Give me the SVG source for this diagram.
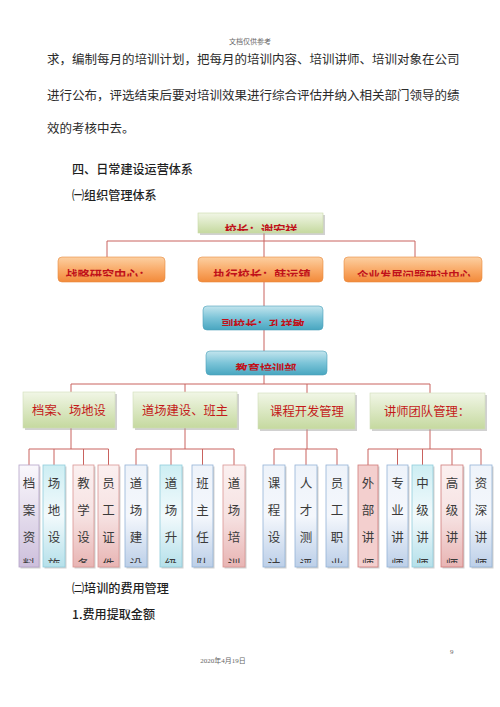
<svg xmlns="http://www.w3.org/2000/svg" width="500" height="707" viewBox="0 0 500 707">
<defs>
<style>
.body{font-family:"Noto Sans CJK SC","Noto Sans",sans-serif;font-size:12.5px;fill:#2b2b2b}
.head{font-family:"Noto Sans CJK SC","Noto Sans",sans-serif;font-size:12.1px;fill:#1f1f1f;font-weight:500}
.small{font-family:"Liberation Serif","Noto Sans CJK SC",serif;font-size:7px;fill:#666}
.bt{font-family:"Noto Sans CJK SC",sans-serif;font-size:12.2px;fill:#c0111a;font-weight:bold;text-anchor:middle}
.gt{font-family:"Noto Sans CJK SC",sans-serif;font-size:12.3px;fill:#c41a1a;text-anchor:middle}
.lt{font-family:"Noto Sans CJK SC",sans-serif;font-size:12.5px;fill:#3a3a3a;text-anchor:middle}
.ln{stroke:#c9625e;stroke-width:1;fill:none}
.sh{fill:#9a9a9a;opacity:0.45}
</style>
<linearGradient id="gGreen" x1="0" y1="0" x2="0" y2="1"><stop offset="0" stop-color="#f1f6e6"/><stop offset="1" stop-color="#c5d99f"/></linearGradient>
<linearGradient id="gOrange" x1="0" y1="0" x2="0" y2="1"><stop offset="0" stop-color="#fcd0a2"/><stop offset="0.55" stop-color="#f9a865"/><stop offset="1" stop-color="#f28a3a"/></linearGradient>
<linearGradient id="gBlue" x1="0" y1="0" x2="0" y2="1"><stop offset="0" stop-color="#c3e5ee"/><stop offset="0.5" stop-color="#7cc4d8"/><stop offset="1" stop-color="#48a6c0"/></linearGradient>
<linearGradient id="lPurple" x1="0" y1="0" x2="0" y2="1"><stop offset="0" stop-color="#faf8fc"/><stop offset="1" stop-color="#cdbfdc"/></linearGradient>
<linearGradient id="lCyan" x1="0" y1="0" x2="0" y2="1"><stop offset="0" stop-color="#cdeef3"/><stop offset="0.5" stop-color="#f2fafc"/><stop offset="1" stop-color="#b5e0ea"/></linearGradient>
<linearGradient id="lPink" x1="0" y1="0" x2="0" y2="1"><stop offset="0" stop-color="#fbf0f0"/><stop offset="0.5" stop-color="#f6e2e2"/><stop offset="1" stop-color="#e8b4b3"/></linearGradient>
<linearGradient id="lBlue" x1="0" y1="0" x2="0" y2="1"><stop offset="0" stop-color="#eef3fa"/><stop offset="0.5" stop-color="#f4f7fc"/><stop offset="1" stop-color="#bccfe8"/></linearGradient>
<clipPath id="c0"><rect x="0" y="210" width="500" height="21"/></clipPath>
<clipPath id="c1"><rect x="0" y="258" width="500" height="18.5"/></clipPath>
<clipPath id="c2"><rect x="0" y="307" width="500" height="19"/></clipPath>
<clipPath id="c3"><rect x="0" y="352" width="500" height="18.5"/></clipPath>
<clipPath id="cl"><rect x="0" y="462" width="500" height="101"/></clipPath>
</defs>
<rect width="500" height="707" fill="#ffffff"/>

<text class="small" x="250" y="44" text-anchor="middle">文档仅供参考</text>
<text class="body" x="47" y="64">求，编制每月的培训计划，把每月的培训内容、培训讲师、培训对象在公司</text>
<text class="body" x="47" y="100">进行公布，评选结束后要对培训效果进行综合评估并纳入相关部门领导的绩</text>
<text class="body" x="47" y="133">效的考核中去。</text>
<text class="head" x="72" y="174">四、日常建设运营体系</text>
<text class="head" x="72" y="200">㈠组织管理体系</text>

<g id="connectors">
<path class="ln" d="M264 233V241M107 241H415M107 241V257M264 241V257M415 241V257"/>
<path class="ln" d="M264 282V306M264 330V351M264 375V384"/>
<path class="ln" d="M71 384H430M71 384V392M185 384V392M307 384V393M430 384V393"/>
<path class="ln" d="M71 428V449M29 449H108.5M29 449V465M54 449V465M83.5 449V465M108.5 449V465"/>
<path class="ln" d="M185 428V449M136 449H234M136 449V465M171 449V465M202.5 449V465M234 449V465"/>
<path class="ln" d="M307 429V449M274 449H337M274 449V465M306 449V465M337 449V465"/>
<path class="ln" d="M430 429V449M368 449H481M368 449V465M397.5 449V465M422.5 449V465M452 449V465M481 449V465"/>
</g>

<g id="n-principal">
<rect class="sh" x="200" y="215" width="125" height="20"/>
<rect x="198" y="213" width="125" height="20" fill="url(#gGreen)" stroke="#c9d9a9" stroke-width="0.6"/>
<text class="bt" x="261" y="235" clip-path="url(#c0)">校长：谢宏祥</text>
</g>
<g id="n-strategy">
<rect x="58" y="257" width="107" height="25" rx="4" fill="url(#gOrange)" stroke="#e88a3e" stroke-width="0.6"/>
<text class="bt" x="108" y="280" clip-path="url(#c1)">战略研究中心：</text>
</g>
<g id="n-exec">
<rect x="198" y="257" width="125" height="25" rx="4" fill="url(#gOrange)" stroke="#e88a3e" stroke-width="0.6"/>
<text class="bt" x="262" y="280" clip-path="url(#c1)">执行校长：韩运镇</text>
</g>
<g id="n-enterprise">
<rect x="344" y="257" width="138" height="25" rx="4" fill="url(#gOrange)" stroke="#e88a3e" stroke-width="0.6"/>
<text class="bt" x="414" y="280" clip-path="url(#c1)" style="font-size:11.4px">企业发展问题研讨中心</text>
</g>
<g id="n-vice">
<rect x="203" y="306" width="120" height="24" rx="4" fill="url(#gBlue)" stroke="#4aa0b8" stroke-width="0.6"/>
<text class="bt" x="263" y="329" clip-path="url(#c2)" style="font-size:11.9px">副校长：孔祥敏</text>
</g>
<g id="n-training">
<rect x="206" y="351" width="121" height="24" rx="4" fill="url(#gBlue)" stroke="#4aa0b8" stroke-width="0.6"/>
<text class="bt" x="266" y="374" clip-path="url(#c3)">教育培训部</text>
</g>

<g id="n-archive">
<rect class="sh" x="25" y="394" width="92" height="36"/>
<rect x="23" y="392" width="92" height="36" fill="url(#gGreen)" stroke="#d0ddb8" stroke-width="0.6"/>
<text class="gt" x="69" y="415">档案、场地设</text>
</g>
<g id="n-dojo">
<rect class="sh" x="135" y="394" width="104" height="36"/>
<rect x="133" y="392" width="104" height="36" fill="url(#gGreen)" stroke="#d0ddb8" stroke-width="0.6"/>
<text class="gt" x="185" y="415">道场建设、班主</text>
</g>
<g id="n-course">
<rect class="sh" x="260" y="395" width="97" height="36"/>
<rect x="258" y="393" width="97" height="36" fill="url(#gGreen)" stroke="#d0ddb8" stroke-width="0.6"/>
<text class="gt" x="307" y="416">课程开发管理</text>
</g>
<g id="n-teachers">
<rect class="sh" x="372" y="395" width="115" height="36"/>
<rect x="370" y="393" width="115" height="36" fill="url(#gGreen)" stroke="#d0ddb8" stroke-width="0.6"/>
<text class="gt" x="427" y="416">讲师团队管理：</text>
</g>

<g id="leaf1"><rect class="sh" x="20.5" y="466.5" width="20" height="102"/><rect x="19" y="465" width="20" height="102" fill="url(#lPurple)" stroke="#b4a3c8" stroke-width="0.8"/><text class="lt" clip-path="url(#cl)"><tspan x="29" y="488">档</tspan><tspan x="29" y="515">案</tspan><tspan x="29" y="542">资</tspan><tspan x="29" y="569">料</tspan></text></g>
<g id="leaf2"><rect class="sh" x="44.5" y="466.5" width="22" height="102"/><rect x="43" y="465" width="22" height="102" fill="url(#lCyan)" stroke="#92cddc" stroke-width="0.8"/><text class="lt" clip-path="url(#cl)"><tspan x="54" y="488">场</tspan><tspan x="54" y="515">地</tspan><tspan x="54" y="542">设</tspan><tspan x="54" y="569">施</tspan></text></g>
<g id="leaf3"><rect class="sh" x="74.5" y="466.5" width="21" height="102"/><rect x="73" y="465" width="21" height="102" fill="url(#lPink)" stroke="#d99694" stroke-width="0.8"/><text class="lt" clip-path="url(#cl)"><tspan x="83.5" y="488">教</tspan><tspan x="83.5" y="515">学</tspan><tspan x="83.5" y="542">设</tspan><tspan x="83.5" y="569">备</tspan></text></g>
<g id="leaf4"><rect class="sh" x="99.5" y="466.5" width="21" height="102"/><rect x="98" y="465" width="21" height="102" fill="url(#lPink)" stroke="#d99694" stroke-width="0.8"/><text class="lt" clip-path="url(#cl)"><tspan x="108.5" y="488">员</tspan><tspan x="108.5" y="515">工</tspan><tspan x="108.5" y="542">证</tspan><tspan x="108.5" y="569">件</tspan></text></g>
<g id="leaf5"><rect class="sh" x="126.5" y="466.5" width="22" height="102"/><rect x="125" y="465" width="22" height="102" fill="url(#lBlue)" stroke="#95b3d7" stroke-width="0.8"/><text class="lt" clip-path="url(#cl)"><tspan x="136" y="488">道</tspan><tspan x="136" y="515">场</tspan><tspan x="136" y="542">建</tspan><tspan x="136" y="569">设</tspan></text></g>
<g id="leaf6"><rect class="sh" x="161.5" y="466.5" width="22" height="102"/><rect x="160" y="465" width="22" height="102" fill="url(#lCyan)" stroke="#92cddc" stroke-width="0.8"/><text class="lt" clip-path="url(#cl)"><tspan x="171" y="488">道</tspan><tspan x="171" y="515">场</tspan><tspan x="171" y="542">升</tspan><tspan x="171" y="569">级</tspan></text></g>
<g id="leaf7"><rect class="sh" x="193.5" y="466.5" width="21" height="102"/><rect x="192" y="465" width="21" height="102" fill="url(#lBlue)" stroke="#95b3d7" stroke-width="0.8"/><text class="lt" clip-path="url(#cl)"><tspan x="202.5" y="488">班</tspan><tspan x="202.5" y="515">主</tspan><tspan x="202.5" y="542">任</tspan><tspan x="202.5" y="569">队</tspan></text></g>
<g id="leaf8"><rect class="sh" x="224.5" y="466.5" width="22" height="102"/><rect x="223" y="465" width="22" height="102" fill="url(#lPink)" stroke="#d99694" stroke-width="0.8"/><text class="lt" clip-path="url(#cl)"><tspan x="234" y="488">道</tspan><tspan x="234" y="515">场</tspan><tspan x="234" y="542">培</tspan><tspan x="234" y="569">训</tspan></text></g>
<g id="leaf9"><rect class="sh" x="264.5" y="466.5" width="22" height="102"/><rect x="263" y="465" width="22" height="102" fill="url(#lBlue)" stroke="#95b3d7" stroke-width="0.8"/><text class="lt" clip-path="url(#cl)"><tspan x="274" y="488">课</tspan><tspan x="274" y="515">程</tspan><tspan x="274" y="542">设</tspan><tspan x="274" y="569">计</tspan></text></g>
<g id="leaf10"><rect class="sh" x="296.5" y="466.5" width="22" height="102"/><rect x="295" y="465" width="22" height="102" fill="url(#lBlue)" stroke="#95b3d7" stroke-width="0.8"/><text class="lt" clip-path="url(#cl)"><tspan x="306" y="488">人</tspan><tspan x="306" y="515">才</tspan><tspan x="306" y="542">测</tspan><tspan x="306" y="569">评</tspan></text></g>
<g id="leaf11"><rect class="sh" x="327.5" y="466.5" width="22" height="102"/><rect x="326" y="465" width="22" height="102" fill="url(#lBlue)" stroke="#95b3d7" stroke-width="0.8"/><text class="lt" clip-path="url(#cl)"><tspan x="337" y="488">员</tspan><tspan x="337" y="515">工</tspan><tspan x="337" y="542">职</tspan><tspan x="337" y="569">业</tspan></text></g>
<g id="leaf12"><rect class="sh" x="359.5" y="466.5" width="20" height="102"/><rect x="358" y="465" width="20" height="102" fill="#f3cfce" stroke="#d07c7a" stroke-width="0.8"/><text class="lt" clip-path="url(#cl)"><tspan x="368" y="488">外</tspan><tspan x="368" y="515">部</tspan><tspan x="368" y="542">讲</tspan><tspan x="368" y="569">师</tspan></text></g>
<g id="leaf13"><rect class="sh" x="388.5" y="466.5" width="21" height="102"/><rect x="387" y="465" width="21" height="102" fill="url(#lBlue)" stroke="#95b3d7" stroke-width="0.8"/><text class="lt" clip-path="url(#cl)"><tspan x="397.5" y="488">专</tspan><tspan x="397.5" y="515">业</tspan><tspan x="397.5" y="542">讲</tspan><tspan x="397.5" y="569">师</tspan></text></g>
<g id="leaf14"><rect class="sh" x="413.5" y="466.5" width="21" height="102"/><rect x="412" y="465" width="21" height="102" fill="url(#lCyan)" stroke="#92cddc" stroke-width="0.8"/><text class="lt" clip-path="url(#cl)"><tspan x="422.5" y="488">中</tspan><tspan x="422.5" y="515">级</tspan><tspan x="422.5" y="542">讲</tspan><tspan x="422.5" y="569">师</tspan></text></g>
<g id="leaf15"><rect class="sh" x="442.5" y="466.5" width="22" height="102"/><rect x="441" y="465" width="22" height="102" fill="url(#lPink)" stroke="#d07c7a" stroke-width="0.8"/><text class="lt" clip-path="url(#cl)"><tspan x="452" y="488">高</tspan><tspan x="452" y="515">级</tspan><tspan x="452" y="542">讲</tspan><tspan x="452" y="569">师</tspan></text></g>
<g id="leaf16"><rect class="sh" x="471.5" y="466.5" width="22" height="102"/><rect x="470" y="465" width="22" height="102" fill="url(#lBlue)" stroke="#95b3d7" stroke-width="0.8"/><text class="lt" clip-path="url(#cl)"><tspan x="481" y="488">资</tspan><tspan x="481" y="515">深</tspan><tspan x="481" y="542">讲</tspan><tspan x="481" y="569">师</tspan></text></g>

<text class="head" x="72" y="593">㈡培训的费用管理</text>
<text class="head" x="72" y="619">1.费用提取金额</text>
<text class="small" x="450" y="654">9</text>
<text class="small" x="223" y="663" text-anchor="middle">2020年4月19日</text>
</svg>
